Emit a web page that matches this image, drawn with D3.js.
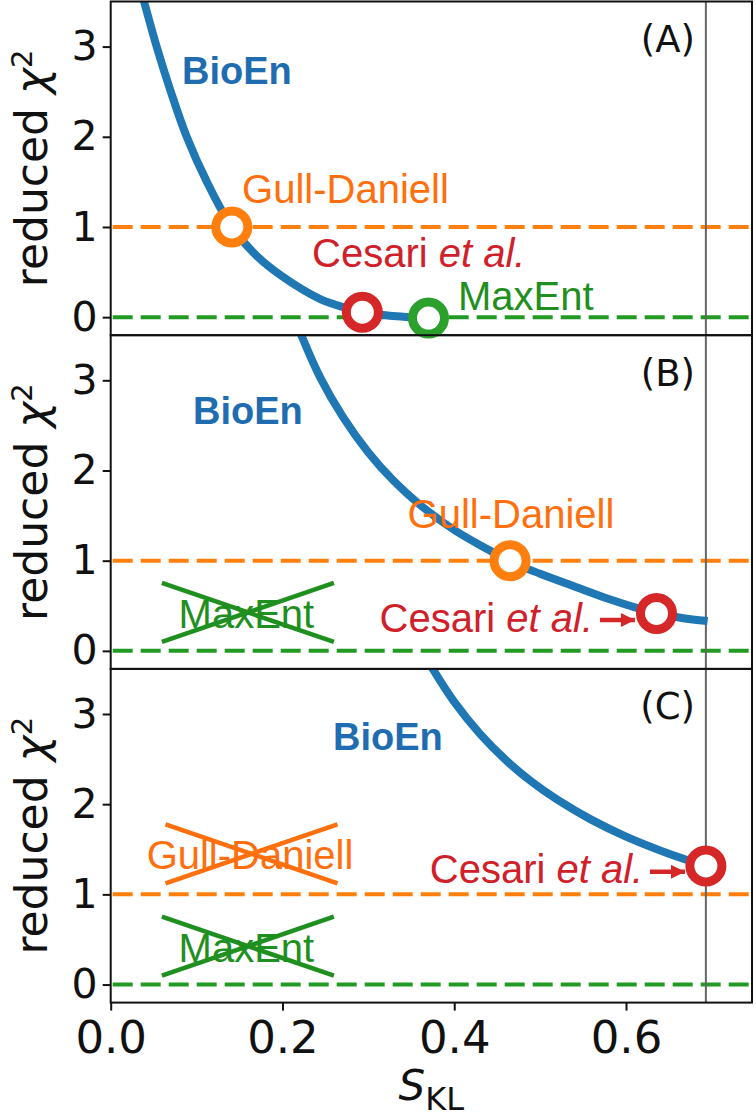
<!DOCTYPE html>
<html><head><meta charset="utf-8">
<script src="https://cdn.jsdelivr.net/npm/d3@7"></script>
<style>body{margin:0;background:#fff} svg{display:block}</style>
</head><body>
<svg id="chart" width="756" height="1117"></svg>
<script>
// ---------------- data ----------------
const panelLabels = ["(A)", "(B)", "(C)"];
const xTicks = [0.0, 0.2, 0.4, 0.6];
const yTicks = [0, 1, 2, 3];
const lnTwo = 0.693;          // vertical reference line (ln 2)
const gullDaniellLevel = 1;   // orange dashed line
const maxEntLevel = 0;        // green dashed line

// BioEn curves (S_KL, reduced chi2)
const curveA_S    = [0.0344, 0.0388, 0.0535, 0.070, 0.0885, 0.112, 0.141, 0.170, 0.200, 0.244, 0.275, 0.295, 0.325, 0.350, 0.372];
const curveA_chi2 = [3.65,   3.50,   3.00,   2.50,  2.00,   1.50,  1.00,  0.68,  0.45,  0.20,  0.10,  0.055, 0.015, 0.00,  -0.01];
const curveB_S    = [0.216, 0.222, 0.244, 0.270, 0.300, 0.330, 0.360, 0.400, 0.440, 0.465, 0.500, 0.540, 0.580, 0.620, 0.636, 0.665, 0.695];
const curveB_chi2 = [3.65,  3.50,  3.03,  2.60,  2.20,  1.88,  1.62,  1.34,  1.12,  0.99,  0.855, 0.714, 0.575, 0.455, 0.415, 0.365, 0.33];
const curveC_S    = [0.366, 0.375, 0.400, 0.430, 0.460, 0.490, 0.520, 0.560, 0.600, 0.650, 0.693];
const curveC_chi2 = [3.65,  3.50,  3.135, 2.78,  2.49,  2.25,  2.05,  1.826, 1.641, 1.451, 1.315];

// highlighted solutions
const pointNames   = ["Gull-Daniell", "Cesari", "MaxEnt"];
const pointsA_S    = [0.141, 0.293, 0.370];
const pointsA_chi2 = [1.00,  0.055, -0.01];
const pointsB_S    = [0.465, 0.6355];
const pointsB_chi2 = [1.00,  0.415];
const pointsC_S    = [0.693];
const pointsC_chi2 = [1.315];

// ---------------- layout ----------------
const C = {blue:"#1f77b4", blueText:"#1f6db0", orange:"#ff7f0e", orangeText:"#ff6f0e",
           red:"#d62728", redText:"#d0202a", green:"#2ca02c", greenLine:"#239a23", greenText:"#1f8f1f"};
const colorOf = {"Gull-Daniell":C.orange, "Cesari":C.red, "MaxEnt":C.green};
const plotLeft = 110.7, plotRight = 752, panelTop0 = 1.5, panelH = 333.7;
const svg = d3.select("#chart");
const x = d3.scaleLinear().domain([0, 0.7467]).range([plotLeft, plotRight]);
const annFont = "'Liberation Sans', Arial, sans-serif";
const axFont = "'DejaVu Sans', sans-serif";

const curves = [
  {S: curveA_S, v: curveA_chi2},
  {S: curveB_S, v: curveB_chi2},
  {S: curveC_S, v: curveC_chi2}
];
const points = [
  {S: pointsA_S, v: pointsA_chi2, names: pointNames},
  {S: pointsB_S, v: pointsB_chi2, names: pointNames.slice(0,2)},
  {S: pointsC_S, v: pointsC_chi2, names: ["Cesari"]}
];

// annotation layout (data coordinates)
const annotations = [
  [ {type:"bioen", S:0.083, v:2.585},
    {type:"text", text:"Gull-Daniell", S:0.153, v:1.27, color:C.orangeText},
    {type:"cesari", S:0.2344, v:0.556},
    {type:"text", text:"MaxEnt", S:0.4044, v:0.079, color:C.greenText} ],
  [ {type:"bioen", S:0.0958, v:2.515},
    {type:"text", text:"Gull-Daniell", S:0.466, v:1.362, color:C.orangeText, anchor:"middle"},
    {type:"crossed", text:"MaxEnt", S:0.158, v:0.254, color:C.greenText},
    {type:"cesari", S:0.5616, v:0.2125, anchor:"end", arrow:[0.5697, 0.6104, 0.342]} ],
  [ {type:"bioen", S:0.2589, v:2.60},
    {type:"crossed", text:"Gull-Daniell", S:0.1622, v:1.278, color:C.orangeText},
    {type:"crossed", text:"MaxEnt", S:0.158, v:0.254, color:C.greenText},
    {type:"cesari", S:0.620, v:1.122, anchor:"end", arrow:[0.6279, 0.6687, 1.25]} ]
];

const defs = svg.append("defs");
defs.append("marker").attr("id","arrowHead").attr("viewBox","0 0 10 10")
  .attr("refX",10).attr("refY",5).attr("markerWidth",17).attr("markerHeight",14)
  .attr("markerUnits","userSpaceOnUse").attr("orient","auto")
  .append("path").attr("d","M0,0 L10,5 L0,10 Z").attr("fill",C.red);

panelLabels.forEach((lab, i) => {
  const top = panelTop0 + i * panelH;
  const y = d3.scaleLinear().domain([-0.2, 3.5]).range([top + panelH, top]);
  const g = svg.append("g");
  const clipId = "clip" + i;
  defs.append("clipPath").attr("id", clipId).append("rect")
    .attr("x", plotLeft).attr("y", top).attr("width", plotRight - plotLeft).attr("height", panelH);
  const pg = g.append("g").attr("clip-path", `url(#${clipId})`);

  // dashed reference lines
  [[gullDaniellLevel, C.orange], [maxEntLevel, C.greenLine]].forEach(([lv, col]) => {
    pg.append("line").attr("x1", plotLeft + 2).attr("x2", plotRight)
      .attr("y1", y(lv)).attr("y2", y(lv))
      .attr("stroke", col).attr("stroke-width", 4).attr("stroke-dasharray", "20,8");
  });
  // vertical ln2 line
  pg.append("line").attr("x1", x(lnTwo)).attr("x2", x(lnTwo)).attr("y1", top).attr("y2", top + panelH)
    .attr("stroke", "#666").attr("stroke-width", 2);

  // BioEn curve
  const cd = curves[i].S.map((s, k) => [s, curves[i].v[k]]);
  pg.append("path").datum(cd)
    .attr("d", d3.line().x(d => x(d[0])).y(d => y(d[1])).curve(d3.curveCatmullRom.alpha(0.5)))
    .attr("fill", "none").attr("stroke", C.blue).attr("stroke-width", 8).attr("stroke-linecap", "butt");

  // frame
  g.append("rect").attr("x", plotLeft).attr("y", top).attr("width", plotRight - plotLeft).attr("height", panelH)
    .attr("fill", "none").attr("stroke", "#111").attr("stroke-width", 2);

  // y axis
  const ya = g.append("g").attr("transform", `translate(${plotLeft},0)`)
    .call(d3.axisLeft(y).tickValues(yTicks).tickSize(8).tickPadding(5).tickFormat(d3.format("d")));
  ya.select(".domain").remove();
  ya.selectAll("line").attr("stroke", "#111").attr("stroke-width", 2);
  ya.selectAll("text").attr("font-family", axFont).attr("font-size", 41).attr("fill", "#111");

  // y label
  const yl = g.append("text").attr("transform", `translate(47,${top + panelH / 2}) rotate(-90)`)
    .attr("text-anchor", "middle").attr("font-family", axFont).attr("font-size", 44).attr("fill", "#111");
  yl.append("tspan").text("reduced ");
  yl.append("tspan").attr("font-style", "italic").text("χ");
  yl.append("tspan").attr("font-size", 29).attr("dy", -15).text("2");

  // panel label
  g.append("text").attr("x", x(0.6803)).attr("y", y(2.94)).attr("text-anchor", "end")
    .attr("font-family", axFont).attr("font-size", 37).attr("fill", "#111").text(lab);

  // annotations
  annotations[i].forEach(a => {
    if (a.type === "bioen") {
      g.append("text").attr("x", x(a.S)).attr("y", y(a.v)).attr("font-family", annFont)
        .attr("font-weight", "bold").attr("font-size", 38).attr("fill", C.blueText).text("BioEn");
    } else if (a.type === "text") {
      g.append("text").attr("x", x(a.S)).attr("y", y(a.v)).attr("text-anchor", a.anchor || "start")
        .attr("font-family", annFont).attr("font-size", 40).attr("fill", a.color).text(a.text);
    } else if (a.type === "crossed") {
      const cx = x(a.S), by = y(a.v);
      g.append("text").attr("x", cx).attr("y", by).attr("text-anchor", "middle")
        .attr("font-family", annFont).attr("font-size", 40).attr("fill", a.color).text(a.text);
      const cxx = cx + 1.5;
      [[-1, 1], [1, -1]].forEach(([s1, s2]) => {
        g.append("line").attr("x1", cxx - 86).attr("x2", cxx + 86)
          .attr("y1", s1 < 0 ? by - 45 : by + 14).attr("y2", s1 < 0 ? by + 14 : by - 45)
          .attr("stroke", a.color).attr("stroke-width", 4.5);
      });
    } else if (a.type === "cesari") {
      const t = g.append("text").attr("x", x(a.S)).attr("y", y(a.v)).attr("text-anchor", a.anchor || "start")
        .attr("font-family", annFont).attr("font-size", 40).attr("fill", C.redText);
      t.append("tspan").text("Cesari ");
      t.append("tspan").attr("font-style", "italic").text("et al.");
      if (a.arrow) {
        g.append("line").attr("x1", x(a.arrow[0])).attr("x2", x(a.arrow[1]))
          .attr("y1", y(a.arrow[2])).attr("y2", y(a.arrow[2]))
          .attr("stroke", C.red).attr("stroke-width", 4.5).attr("marker-end", "url(#arrowHead)");
      }
    }
  });

  // highlighted points
  const pd = points[i].S.map((s, k) => ({S: s, v: points[i].v[k], name: points[i].names[k]}));
  g.selectAll("circle.pt").data(pd).enter().append("circle")
    .attr("cx", d => x(d.S)).attr("cy", d => y(d.v)).attr("r", 16)
    .attr("fill", "#fff").attr("stroke", d => colorOf[d.name]).attr("stroke-width", 9);

  // x axis on last panel
  if (i === panelLabels.length - 1) {
    const xa = g.append("g").attr("transform", `translate(0,${top + panelH})`)
      .call(d3.axisBottom(x).tickValues(xTicks).tickSize(8).tickPadding(10).tickFormat(d3.format(".1f")));
    xa.select(".domain").remove();
    xa.selectAll("line").attr("stroke", "#111").attr("stroke-width", 2);
    xa.selectAll("text").attr("font-family", axFont).attr("font-size", 45).attr("fill", "#111");
    const xl = g.append("text").attr("x", (plotLeft + plotRight) / 2).attr("y", 1100)
      .attr("text-anchor", "middle").attr("font-family", axFont).attr("fill", "#111");
    xl.append("tspan").attr("font-style", "italic").attr("font-size", 42).text("S");
    xl.append("tspan").attr("font-size", 32).attr("dy", 10).text("KL");
  }
});
</script>
</body></html>
